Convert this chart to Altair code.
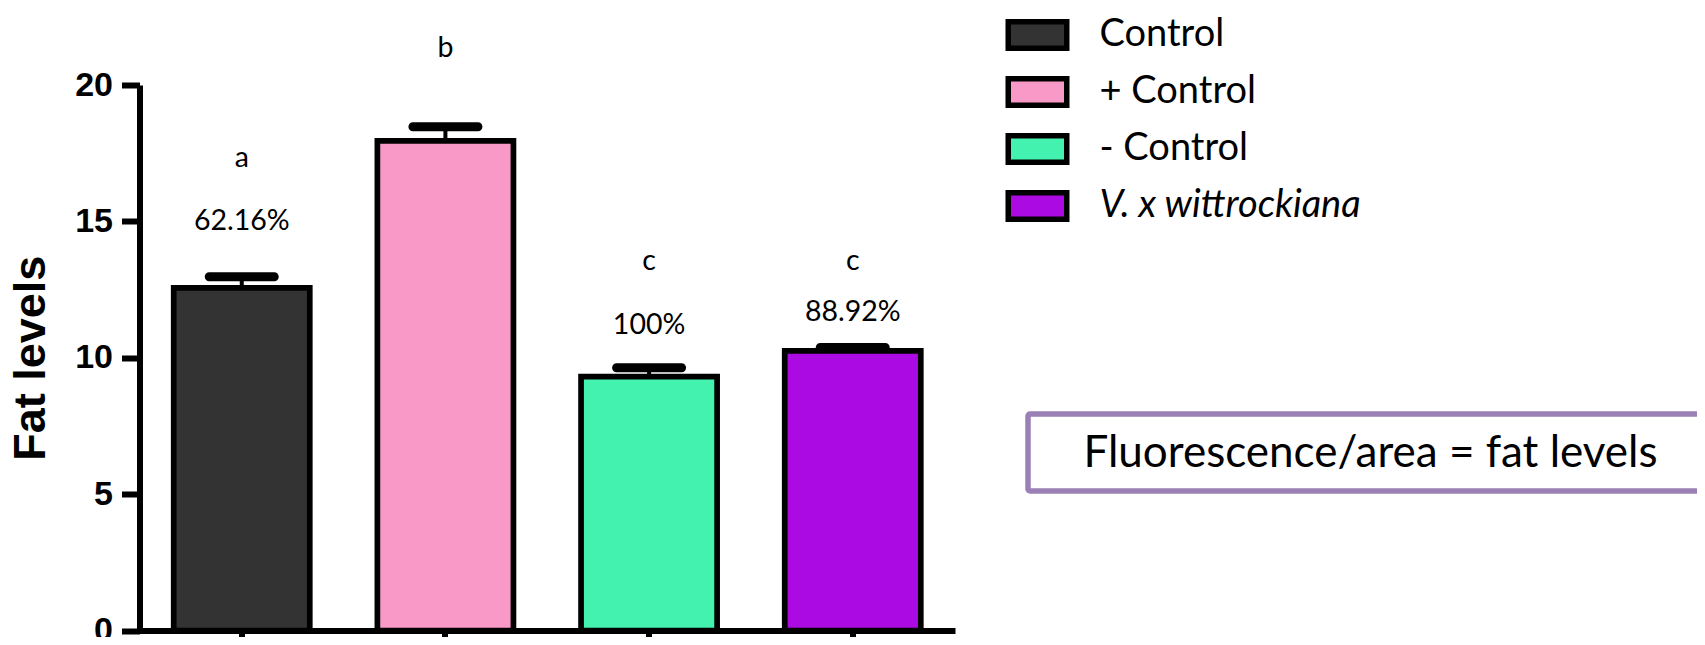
import altair as alt
import pandas as pd

groups = ["Control", "+ Control", "- Control", "V. x wittrockiana"]
fat_levels = [12.56, 17.95, 9.31, 10.25]
sem = [0.41, 0.52, 0.32, 0.13]
colors = ["#333333", "#f899c7", "#44f2b0", "#ac0ae2"]
letters = ["a", "b", "c", "c"]
letter_y = [17.33, 21.35, 13.55, 13.55]
percents = ["62.16%", "", "100%", "88.92%"]
percent_y = [15.02, 0.0, 11.2, 11.68]
note = ["Fluorescence/area = fat levels"]
y_ticks = [0, 5, 10, 15, 20]

df = pd.DataFrame({
    "group": groups,
    "value": fat_levels,
    "upper": [v + e for v, e in zip(fat_levels, sem)],
    "letter": letters,
    "letter_y": letter_y,
    "pct": percents,
    "pct_y": percent_y,
})

base = alt.Chart(df)

x = alt.X(
    "group:N", sort=groups,
    scale=alt.Scale(paddingInner=0.332, paddingOuter=0.168),
    axis=alt.Axis(labels=False, title=None, tickSize=18, tickWidth=6,
                  tickColor="black", domainWidth=6, domainColor="black"),
)

y_axis = alt.Axis(
    values=y_ticks, title="Fat levels", titleFont="Liberation Sans",
    titleFontSize=45, titleFontWeight="bold", titleColor="black",
    titlePadding=21, labelFont="Liberation Sans", labelFontSize=34,
    labelFontWeight="bold", labelColor="black", labelPadding=9,
    tickSize=18, tickWidth=6, tickColor="black", domainWidth=6,
    domainColor="black", grid=False,
)

legend = alt.Legend(
    orient="none", legendX=866, legendY=-82, title=None, padding=0,
    symbolType="M-1,-0.453H1V0.453H-1Z", symbolSize=3422,
    symbolStrokeColor="black", symbolStrokeWidth=5.5, symbolOpacity=1,
    labelFont="Lato", labelFontSize=38, labelColor="black",
    labelOffset=30, rowPadding=-6, labelLimit=500,
    labelFontStyle=alt.ExprRef("datum.label == 'V. x wittrockiana' ? 'italic' : 'normal'"),
)

stems = base.mark_rule(color="black", strokeWidth=4).encode(
    x=x, y=alt.Y("value:Q", scale=alt.Scale(domain=[0, 20], nice=False), axis=y_axis),
    y2="upper:Q",
)

bars = base.mark_bar(stroke="black", strokeWidth=5.7, opacity=1).encode(
    x=x,
    y=alt.Y("value:Q"),
    color=alt.Color("group:N", sort=groups,
                    scale=alt.Scale(domain=groups, range=colors), legend=legend),
)

caps = base.mark_tick(color="black", thickness=9, size=74, cornerRadius=4.5, opacity=1).encode(
    x=x, y=alt.Y("upper:Q"),
)

letter_text = base.mark_text(font="Lato", fontSize=28.5, color="black", baseline="middle").encode(
    x=x, y=alt.Y("letter_y:Q"), text="letter:N",
)

pct_text = base.transform_filter("datum.pct != ''").mark_text(
    font="Lato", fontSize=28.5, color="black", baseline="middle").encode(
    x=x, y=alt.Y("pct_y:Q"), text="pct:N",
)

note_df = pd.DataFrame({"note": note})
note_box = alt.Chart(note_df).mark_rect(
    fill="white", stroke="#9b80b6", strokeWidth=5.5, cornerRadius=2).encode(
    x=alt.value(888.5), x2=alt.value(1610), y=alt.value(329), y2=alt.value(406),
)
note_text = alt.Chart(note_df).mark_text(
    font="Lato", fontSize=44, color="black", baseline="middle", align="center").encode(
    x=alt.value(1231), y=alt.value(369), text="note:N",
)

chart = alt.layer(stems, bars, caps, letter_text, pct_text, note_box, note_text).properties(
    width=815.5, height=545.5,
    autosize=alt.AutoSizeParams(type="none"),
    padding={"left": 131.5, "top": 77, "right": 742, "bottom": 6.5},
).configure_view(stroke=None)

chart.save("out.html", embed_options={"renderer": "svg", "actions": False})
